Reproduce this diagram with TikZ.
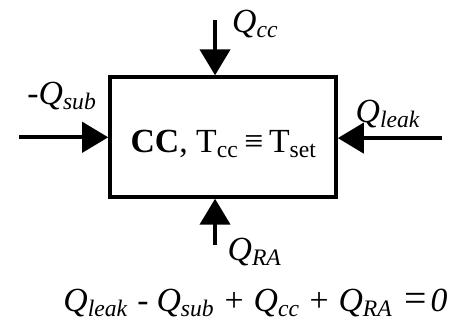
\documentclass[tikz,border=0pt]{standalone}
\usepackage{fontspec}
\setmainfont{Liberation Serif}
\usetikzlibrary{arrows.meta, positioning}
\newcommand{\heat}[1]{\textit{Q}\textsubscript{\textit{#1}}}
\tikzset{
  flux/.style={line width=2.2pt, -{Triangle[length=0.46cm, width=0.53cm]}},
  lbl/.style={font=\fontsize{17}{20}\selectfont, inner sep=0pt}
}

\begin{document}
\begin{tikzpicture}
        \useasboundingbox (0,0) rectangle (8,5.734);

        % Le bloc CC
        \node[draw, line width=1.8pt, minimum width=4cm, minimum height=2.12cm] (cc) at (3.947,3.309) {};
        \node[lbl] (cctext) at (3.96,3.19) {\textbf{CC}, T\textsubscript{cc}\,≡\,T\textsubscript{set}};

        % Les flux
        \coordinate (srcN) at (3.806,5.38);
        \coordinate (srcW) at (0.34,3.304);
        \coordinate (srcE) at (7.82,3.29);
        \coordinate (srcS) at (3.806,1.397);
        \draw[flux] (srcN) -- (srcN |- cc.north);
        \draw[flux] (srcW) -- (srcW -| cc.west);
        \draw[flux] (srcE) -- (srcE -| cc.east);
        \draw[flux] (srcS) -- (srcS |- cc.south);

        % Les etiquettes
        \node[lbl] (qcc) at (4.52,5.31) {\heat{cc}};
        \node[lbl] (qsub) at (1.10,4.04) {-\heat{sub}};
        \node[lbl] (qleak) at (6.87,3.72) {\heat{leak}};
        \node[lbl] (qra) at (4.51,1.27) {\heat{RA}};

        % Bilan
        \node[lbl, anchor=west] (bilan) at (1.115,0.37) {\heat{leak}\hspace{4.5pt}-\hspace{4pt}\heat{sub}\hspace{5pt}+\hspace{5pt}\heat{cc}\hspace{4.8pt}+\hspace{5pt}\heat{RA}\hspace{6pt}{\fontsize{20}{20}\selectfont=}\hspace{1.8pt}\textit{0}};
\end{tikzpicture}
\end{document}
